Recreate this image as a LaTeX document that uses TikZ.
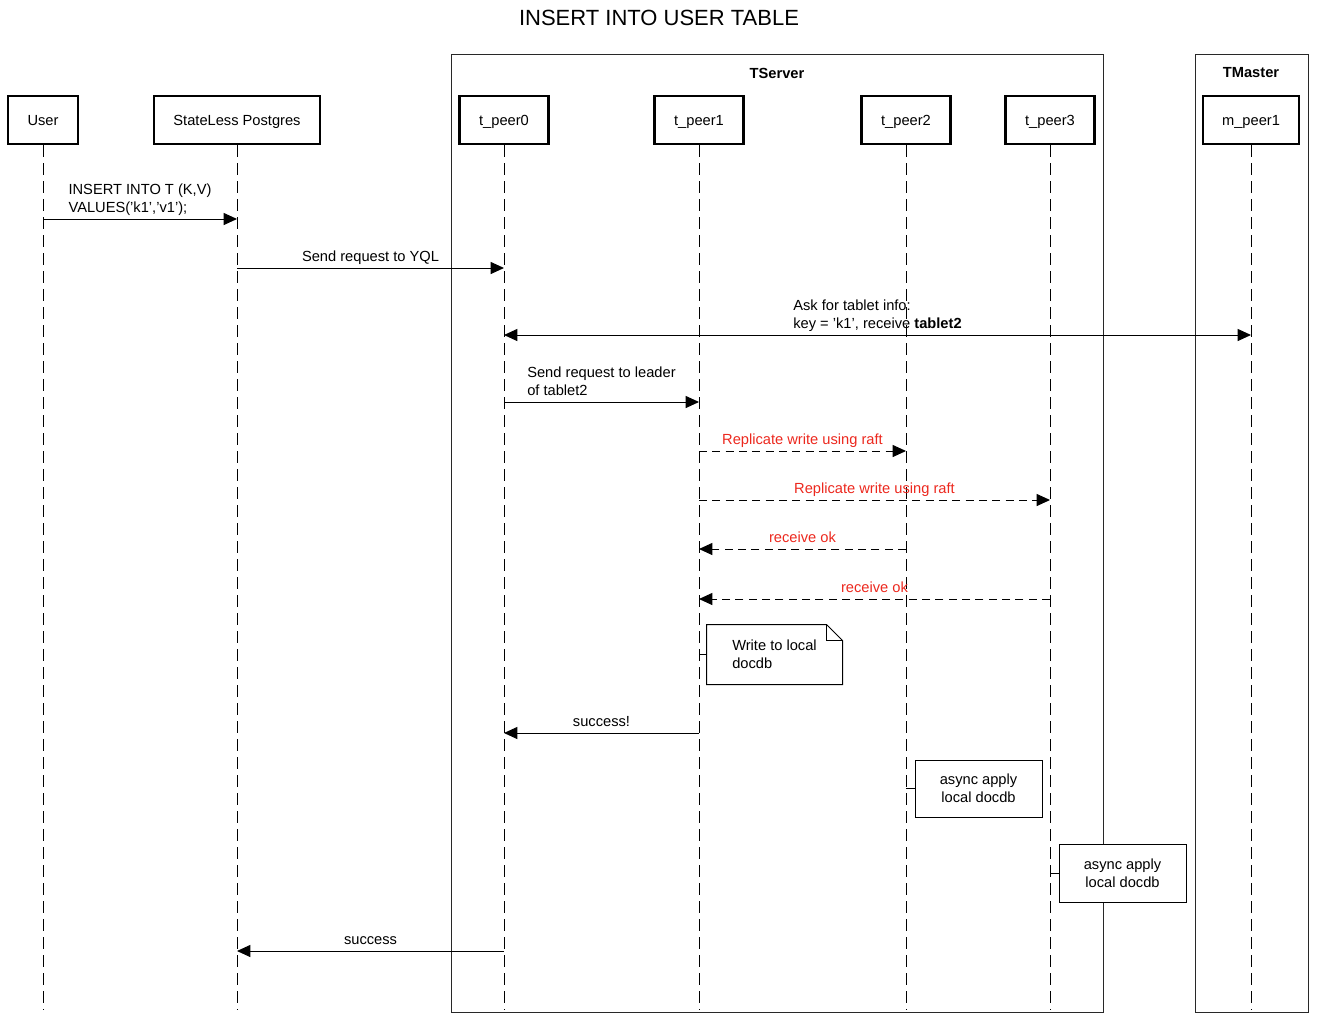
\documentclass[tikz,border=0pt]{standalone}
\usepackage{fontspec}
\setmainfont{Liberation Sans}
\usepackage{tikz}
\usetikzlibrary{arrows.meta, positioning, calc}
\definecolor{mydark}{RGB}{0,0,0}
\definecolor{myred}{RGB}{236,40,30}
\definecolor{mgframe}{RGB}{40,40,40}
\tikzset{
  actor/.style={rectangle, draw=mydark, fill=white, line width=2.2pt,
    minimum height=36pt, inner sep=0pt, text height=10.5pt, text depth=2pt,
    font=\fontsize{11}{13.2}\selectfont},
  lifeline/.style={line width=0.75pt, color=mydark, dash pattern=on 9pt off 4.5pt},
  msg/.style={-{Triangle[length=10pt,width=9pt]}, line width=0.75pt, color=mydark},
  dmsg/.style={msg, dash pattern=on 6pt off 4pt},
  bimsg/.style={{Triangle[length=10pt,width=9pt]}-{Triangle[length=10pt,width=9pt]},
    line width=0.75pt, color=mydark},
  lbl/.style={font=\fontsize{11}{13.2}\selectfont, align=left, inner sep=2pt, text depth=2.5pt},
  redlbl/.style={lbl, text=myred},
  frame/.style={draw=mgframe, line width=0.75pt},
  framelbl/.style={font=\fontsize{11}{13.2}\selectfont\bfseries},
  notebox/.style={rectangle, draw=mydark, fill=white, line width=0.75pt,
    align=center, inner sep=0pt, font=\fontsize{11}{13.2}\selectfont},
  notetie/.style={line width=0.75pt, color=mydark}
}

\begin{document}
\begin{tikzpicture}[x=0.75pt, y=-0.75pt]
  \useasboundingbox (0,0) rectangle (1317,1021);
  % title
  \node[font=\fontsize{16.5}{19.8}\selectfont] (title) at (659,18) {INSERT INTO USER TABLE};
  % group frames
  \draw[frame] (451,54) rectangle (1103,1012);
  \node[framelbl] (tserver) at (777,73) {TServer};
  \draw[frame] (1195,54) rectangle (1308,1012);
  \node[framelbl] (tmaster) at (1251,73) {TMaster};
  % participants
  \node[actor, minimum width=52.5pt] (user) at (43,120) {User};
  \node[actor, minimum width=124.5pt] (pg) at (237,120) {StateLess Postgres};
  \node[actor, minimum width=66.75pt] (tp0) at (504,120) {t\_peer0};
  \node[actor, minimum width=66.75pt] (tp1) at (699,120) {t\_peer1};
  \node[actor, minimum width=66.75pt] (tp2) at (906,120) {t\_peer2};
  \node[actor, minimum width=66.75pt] (tp3) at (1050,120) {t\_peer3};
  \node[actor, minimum width=72pt] (mp1) at (1251,120) {m\_peer1};
  % lifelines
  \coordinate (bot) at (0,1010);
  \foreach \p in {user,pg,tp0,tp1,tp2,tp3,mp1}
    \draw[lifeline] (\p.south) -- (\p |- bot);
  % message rows
  \coordinate (m1) at (0,219);
  \coordinate (m2) at (0,268);
  \coordinate (m3) at (0,335);
  \coordinate (m4) at (0,402);
  \coordinate (m5) at (0,451);
  \coordinate (m6) at (0,500);
  \coordinate (m7) at (0,549);
  \coordinate (m8) at (0,599);
  \coordinate (m9) at (0,733);
  \coordinate (m10) at (0,951);
  % messages
  \draw[msg] (user |- m1) -- node[lbl, above] {INSERT INTO T (K,V)\\VALUES('k1','v1');} (pg |- m1);
  \draw[msg] (pg |- m2) -- node[lbl, above] {Send request to YQL} (tp0 |- m2);
  \draw[bimsg] (tp0 |- m3) -- node[lbl, above] {Ask for tablet info:\\key = 'k1', receive \textbf{tablet2}} (mp1 |- m3);
  \draw[msg] (tp0 |- m4) -- node[lbl, above] {Send request to leader\\of tablet2} (tp1 |- m4);
  \draw[dmsg] (tp1 |- m5) -- node[redlbl, above] {Replicate write using raft} (tp2 |- m5);
  \draw[dmsg] (tp1 |- m6) -- node[redlbl, above] {Replicate write using raft} (tp3 |- m6);
  \draw[dmsg] (tp2 |- m7) -- node[redlbl, above] {receive ok} (tp1 |- m7);
  \draw[dmsg] (tp3 |- m8) -- node[redlbl, above] {receive ok} (tp1 |- m8);
  \draw[msg] (tp1 |- m9) -- node[lbl, above] {success!} (tp0 |- m9);
  \draw[msg] (tp0 |- m10) -- node[lbl, above] {success} (pg |- m10);
  % note with folded corner
  \node[notebox, draw=none, fill=none, minimum width=101.25pt, minimum height=44.25pt] (wnote) at (774.5,654.5) {};
  \draw[notetie, fill=white] (wnote.south west) -- (wnote.north west) -- ([xshift=-12pt]wnote.north east)
    -- ([yshift=-12pt]wnote.north east) -- (wnote.south east) -- cycle;
  \draw[notetie] ([xshift=-12pt]wnote.north east) -- ++(0,16) -- ([yshift=-12pt]wnote.north east);
  \node[lbl, inner sep=0pt, text depth=] (wtext) at (wnote) {Write to local\\docdb};
  \draw[notetie] (tp1 |- wnote.west) -- (wnote.west);
  % async notes
  \node[notebox, minimum width=95.25pt, minimum height=42.75pt] (anote2) at (978.5,788.5) {async apply\\local docdb};
  \draw[notetie] (tp2 |- anote2.west) -- (anote2.west);
  \node[notebox, minimum width=95.25pt, minimum height=43.5pt] (anote3) at (1122.5,873) {async apply\\local docdb};
  \draw[notetie] (tp3 |- anote3.west) -- (anote3.west);
\end{tikzpicture}
\end{document}
